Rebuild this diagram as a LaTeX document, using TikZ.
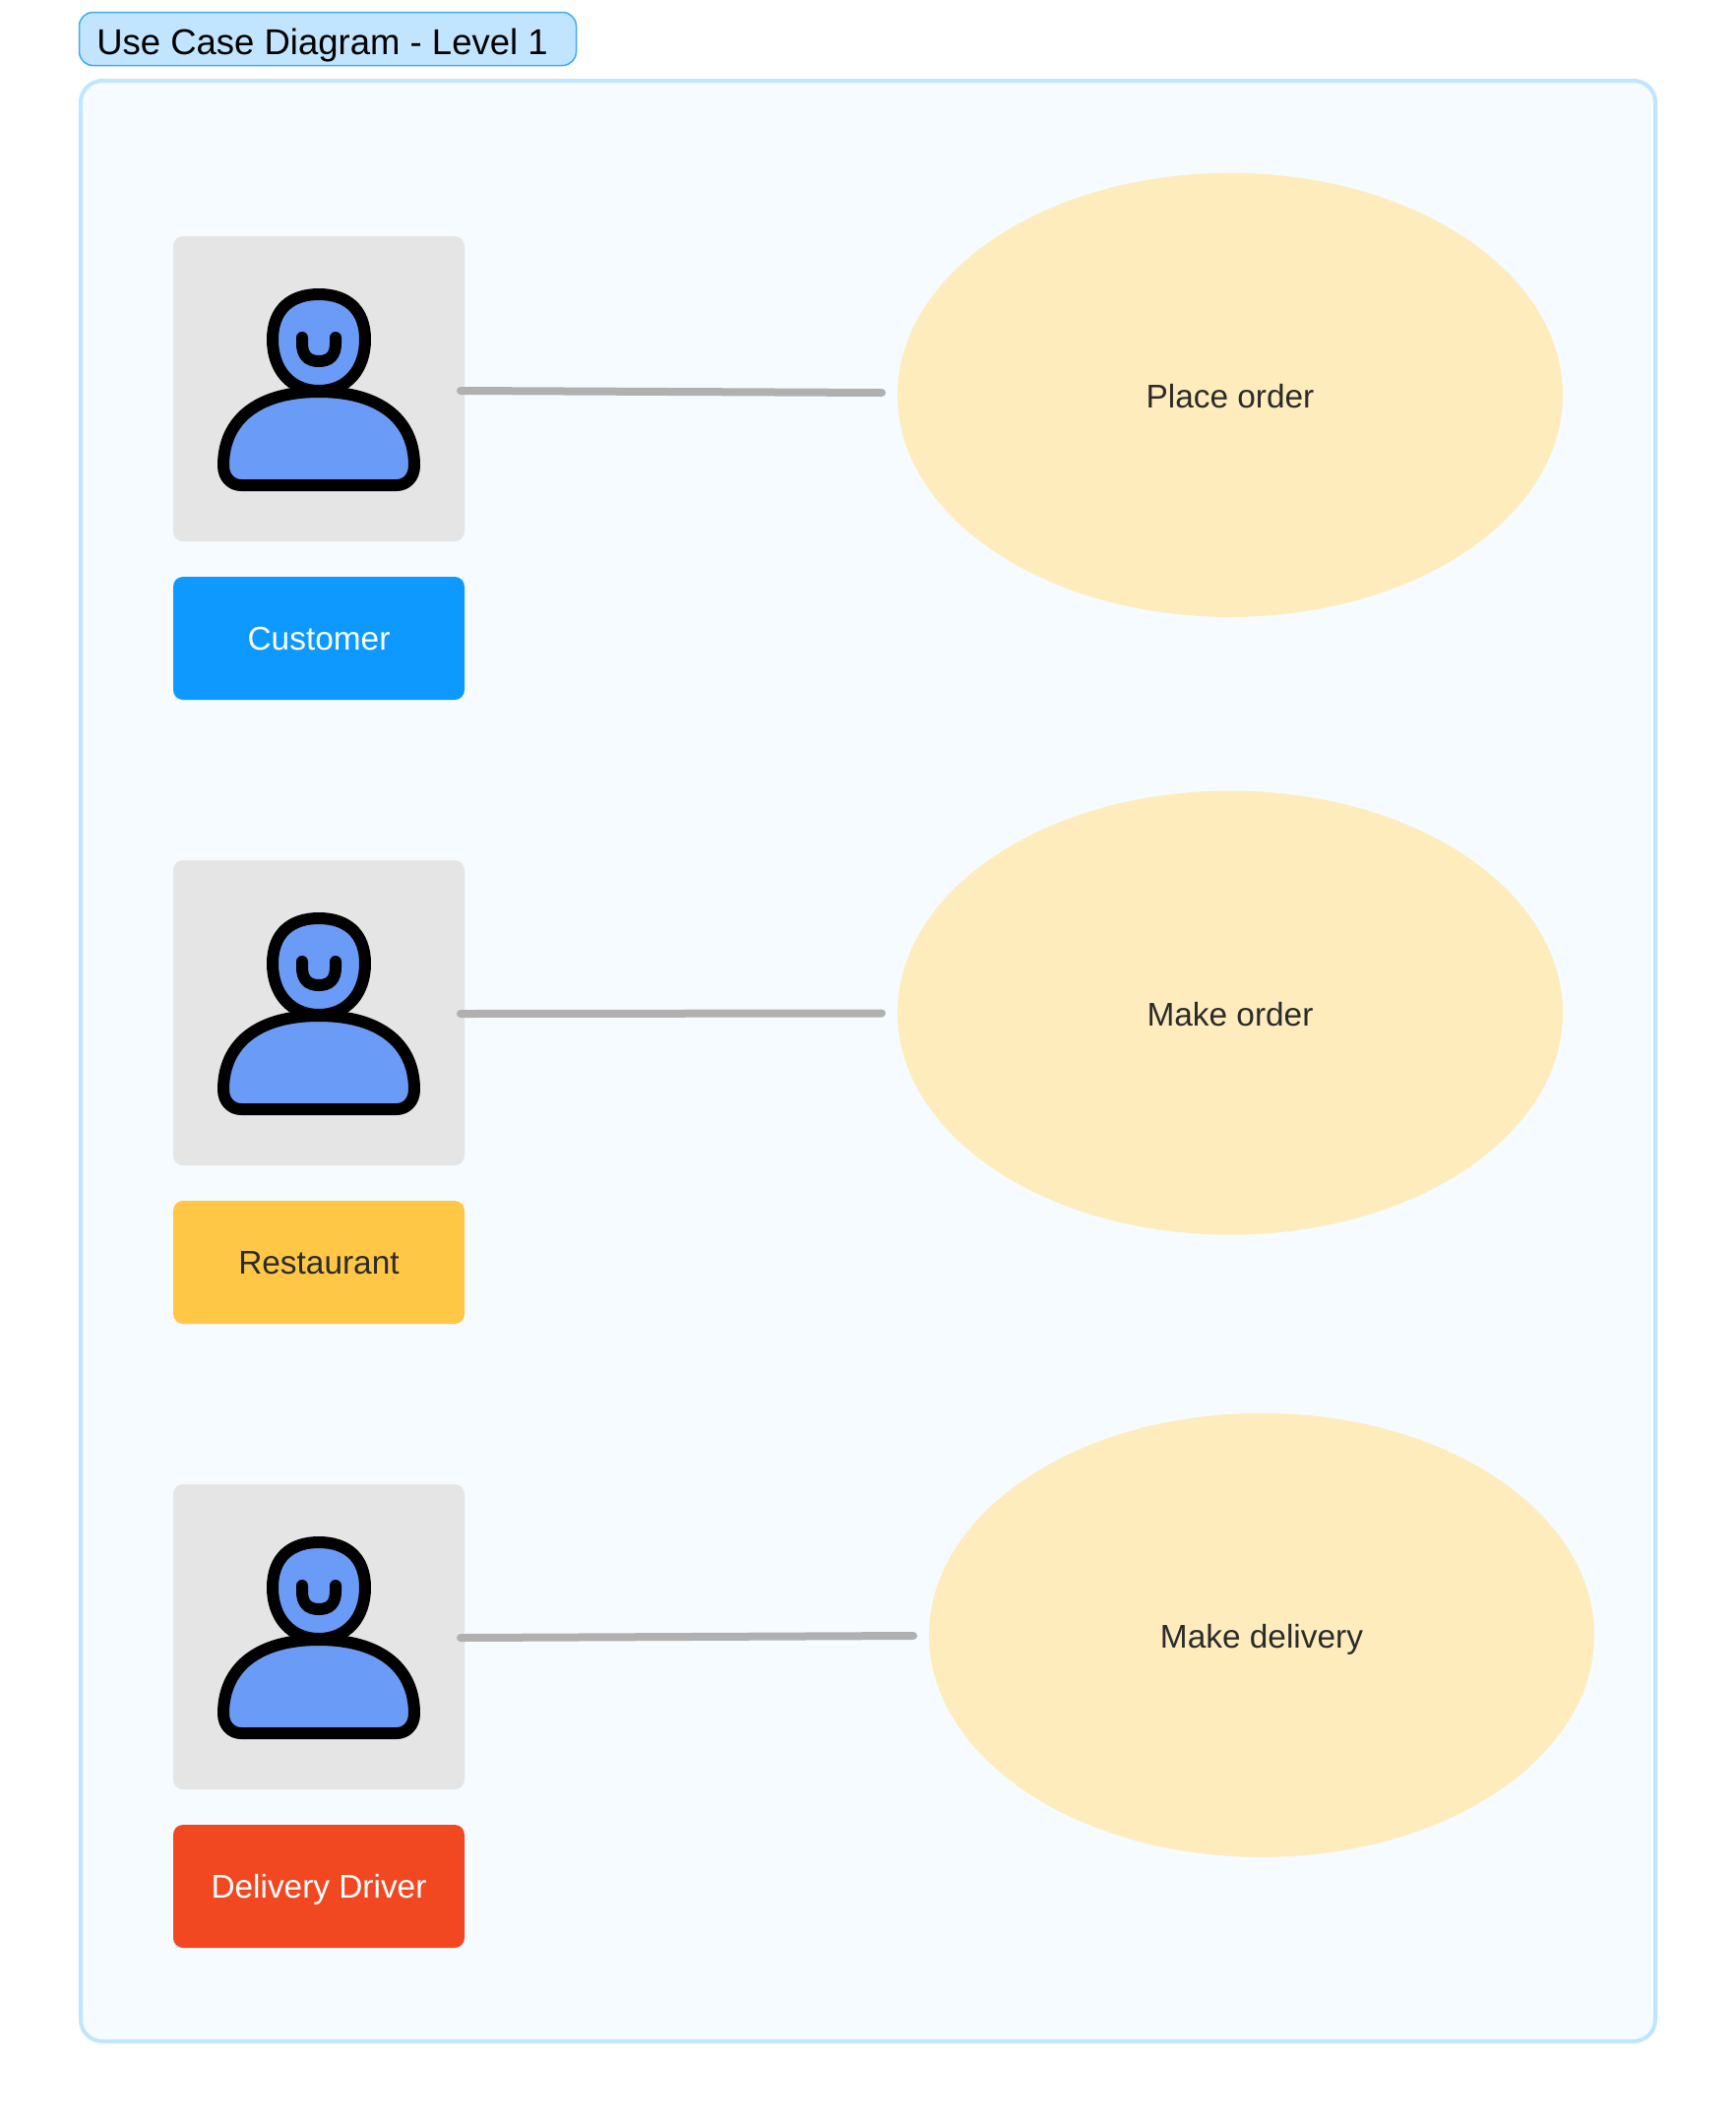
\documentclass[tikz,border=0pt]{standalone}
\usepackage{fontspec}
\setmainfont{Liberation Sans}
\usetikzlibrary{shapes.geometric}
\definecolor{framefill}{HTML}{F5FBFF}
\definecolor{framestroke}{HTML}{C0E5FF}
\definecolor{titlefill}{HTML}{C2E5FF}
\definecolor{titlestroke}{HTML}{3FAAF8}
\definecolor{graybox}{HTML}{E5E5E5}
\definecolor{ovalfill}{HTML}{FEECBC}
\definecolor{wire}{HTML}{B0B0B0}
\definecolor{iconblue}{HTML}{699BF7}
\definecolor{labblue}{HTML}{0D99FF}
\definecolor{labyellow}{HTML}{FFC745}
\definecolor{labred}{HTML}{F24822}
\definecolor{inktext}{HTML}{2B2B2B}
\tikzset{
  x=1pt,y=-1pt,
  actorbox/.style={fill=graybox,rounded corners=10pt,minimum width=296pt,minimum height=310pt,inner sep=0pt},
  rolelabel/.style={rounded corners=10pt,minimum width=296pt,minimum height=125pt,inner sep=0pt,text height=23pt,text depth=0pt,font=\fontsize{33.4}{38}\selectfont},
  usecase/.style={ellipse,fill=ovalfill,minimum width=676pt,minimum height=451pt,inner sep=0pt,text height=26pt,text depth=0pt,text=inktext,font=\fontsize{33.4}{38}\selectfont},
  wireline/.style={draw=wire,line width=8pt,line cap=round},
  iconline/.style={draw=black,line width=12pt,line join=round,line cap=round},
}
\newcommand{\personicon}[1]{%
  \begin{scope}[shift={(0,#1)}]
    \path[iconline,fill=iconblue] (277,345) .. controls (277,314) and (296,299) .. (324,299)
      .. controls (352,299) and (371,314) .. (371,345)
      .. controls (371,375) and (353,397) .. (324,397)
      .. controls (295,397) and (277,375) .. (277,345) -- cycle;
    \path[iconline] (307,343) -- (307,349) .. controls (307,361) and (313,367) .. (324,367)
      .. controls (335,367) and (341,361) .. (341,349) -- (341,343);
    \path[iconline,fill=iconblue] (227,473) .. controls (227,428) and (260,398) .. (324,398)
      .. controls (388,398) and (421,428) .. (421,473)
      .. controls (421,485) and (413,493) .. (403,493) -- (245,493)
      .. controls (235,493) and (227,485) .. (227,473) -- cycle;
  \end{scope}}
\begin{document}
\begin{tikzpicture}
\useasboundingbox (0,0) rectangle (1764,2156);
\fill[white] (0,0) rectangle (1764,2156);
\node[draw=framestroke,fill=framefill,line width=4pt,rounded corners=22pt,minimum width=1600pt,minimum height=1992pt,inner sep=0pt] (frame) at (882,1078) {};
\node[draw=titlestroke,fill=titlefill,line width=1.5pt,rounded corners=14pt,minimum width=505pt,minimum height=54pt,inner sep=0pt,text height=31pt,text depth=0pt,font=\fontsize{36.5}{42}\selectfont,text=black] (title) at (333,39.5) {\hspace*{-11pt}Use Case Diagram - Level 1};
\node[actorbox] (a1) at (324,395) {};
\node[actorbox] (a2) at (324,1029) {};
\node[actorbox] (a3) at (324,1663) {};
\personicon{0}
\personicon{634}
\personicon{1268}
\node[rolelabel,fill=labblue,text=white] (l1) at (324,648.5) {Customer};
\node[rolelabel,fill=labyellow,text=inktext] (l2) at (324,1282.5) {Restaurant};
\node[rolelabel,fill=labred,text=white] (l3) at (324,1916.5) {Delivery Driver};
\node[usecase] (u1) at (1250,401.3) {Place order};
\node[usecase] (u2) at (1250,1029) {Make order};
\node[usecase] (u3) at (1282,1661.3) {Make delivery};
\coordinate (s1) at (468,397);
\coordinate (e1) at (896,399);
\coordinate (s2) at (468,1030);
\coordinate (e2) at (896,1029.5);
\coordinate (s3) at (468,1664);
\coordinate (e3) at (928,1662);
\draw[wireline] (s1) -- (e1);
\draw[wireline] (s2) -- (e2);
\draw[wireline] (s3) -- (e3);
\end{tikzpicture}
\end{document}
